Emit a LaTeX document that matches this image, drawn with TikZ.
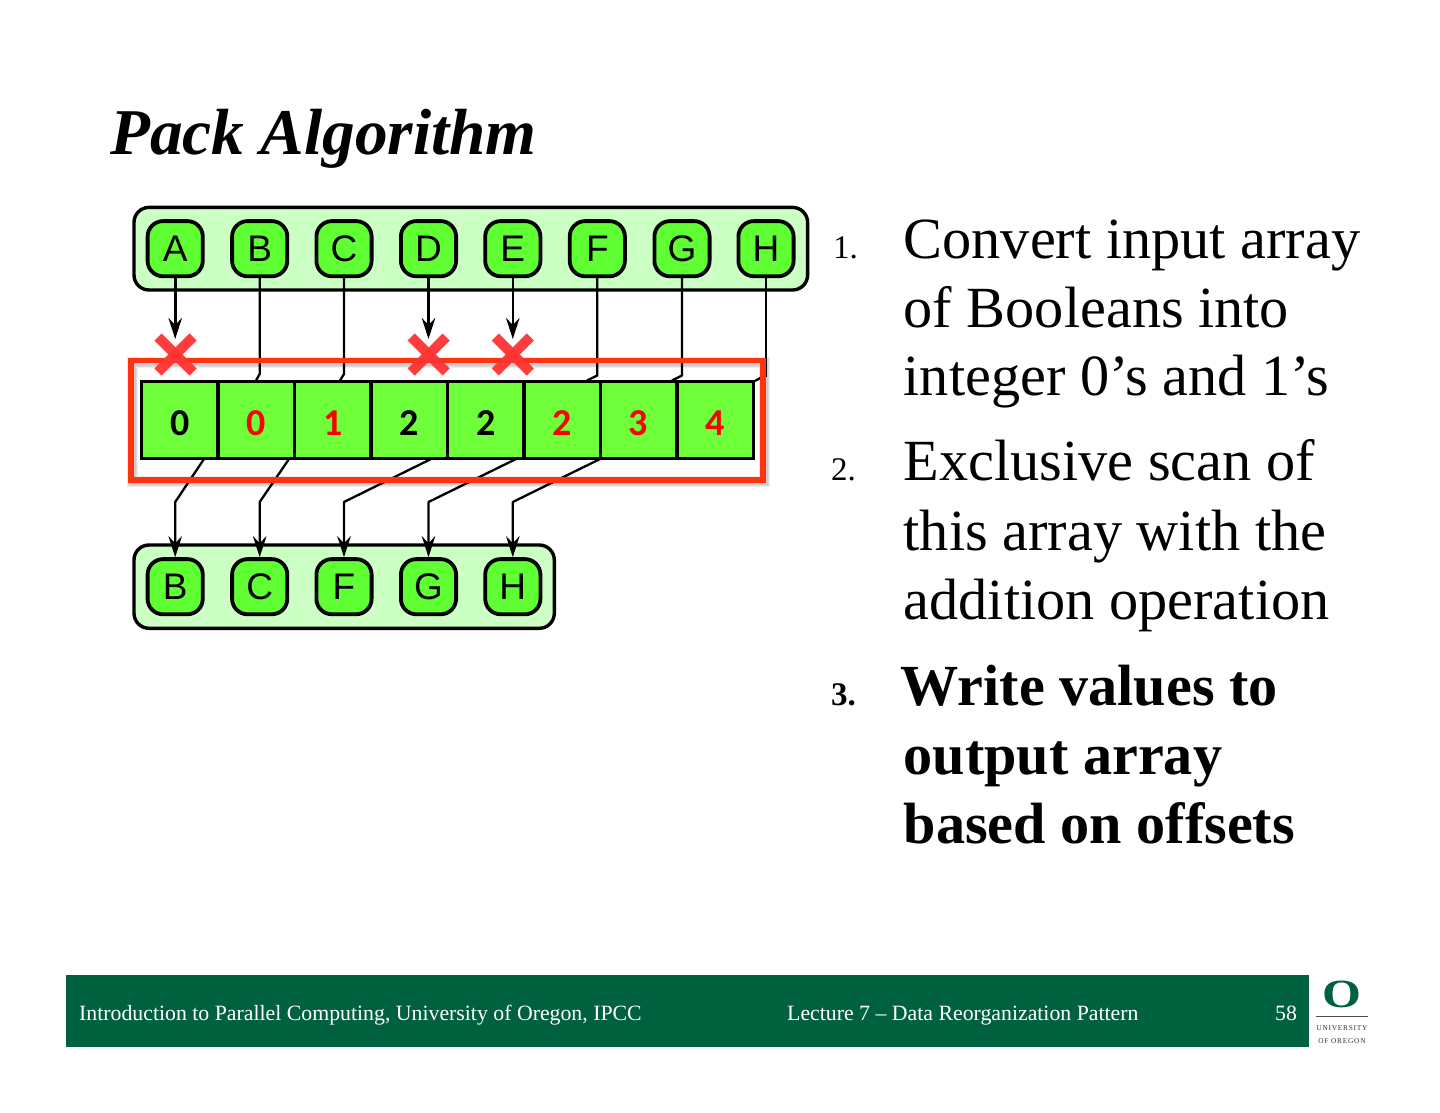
\documentclass[tikz,border=0pt]{standalone}
\usepackage{fontspec}
\setmainfont{Liberation Serif}
\newfontfamily\arialf{Liberation Sans}
\newfontfamily\calibrif{Carlito}
\newfontfamily\logof[LetterSpace=10]{Liberation Serif}
\usetikzlibrary{arrows.meta,calc}
\definecolor{contfill}{HTML}{CCFFC4}
\definecolor{nodefill}{HTML}{5FFF33}
\definecolor{cellfill}{HTML}{6FFF3A}
\definecolor{redbox}{HTML}{FF3311}
\definecolor{crossred}{HTML}{FF3333}
\definecolor{uogreen}{HTML}{00613F}
\newcommand{\fsz}[1]{\fontsize{#1}{#1}\selectfont}
\newcommand{\celltxt}[1]{\smash{\raisebox{-15pt}{#1}}}
\tikzset{
 container/.style={draw=black,fill=contfill,line width=3.4pt,rounded corners=15pt,anchor=north west,inner sep=0pt},
 item/.style={draw=black,fill=nodefill,line width=3.8pt,rounded corners=15.5pt,minimum width=55.2pt,minimum height=55.2pt,inner sep=0pt,font=\arialf\fsz{37}},
 cell/.style={draw=black,fill=cellfill,line width=3.4pt,minimum width=76.45pt,minimum height=76.6pt,inner sep=0pt,font=\calibrif\bfseries\fsz{38}},
 link/.style={draw=black,line width=2.3pt,line join=round},
 linka/.style={link,-{Stealth[length=21pt,width=13.5pt,inset=7pt]}},
 body/.style={anchor=base west,inner sep=0pt,font=\fsz{58.3}},
 bodyb/.style={anchor=base west,inner sep=0pt,font=\bfseries\fsz{58.2}},
 numlab/.style={anchor=base west,inner sep=0pt,font=\fsz{33}},
 foot/.style={anchor=base west,inner sep=0pt,text=white,font=\fsz{21.8}},
 crossbar/.style={draw=crossred,line width=10pt,opacity=.95},
 logotext/.style={anchor=base,inner sep=0pt,text=black!80,font=\logof\fsz{7.4}},
 redshade/.style={draw=black,opacity=.07},
}
\begin{document}
\begin{tikzpicture}[x=1pt,y=-1pt]
\useasboundingbox (0,0) rectangle (1440,1113);
\node[anchor=base west,inner sep=0pt,font=\bfseries\itshape\fsz{65.3}] (title) at (110,154) {Pack Algorithm};
% containers
\node[container,minimum width=673.6pt,minimum height=82.6pt] (top) at (132.3,205.7) {};
\node[container,minimum width=420.3pt,minimum height=83.3pt] (bot) at (132.3,543.3) {};
% top items
\node[item] (A) at (175.2,248.7) {A};
\node[item] (B) at (259.7,248.7) {B};
\node[item] (C) at (344,248.7) {C};
\node[item] (D) at (428.5,248.7) {D};
\node[item] (E) at (512.8,248.7) {E};
\node[item] (F) at (597.3,248.7) {F};
\node[item] (G) at (682,248.7) {G};
\node[item] (H) at (766,248.7) {H};
% bottom items
\node[item] (B2) at (175.2,586.7) {B};
\node[item] (C2) at (259.7,586.7) {C};
\node[item] (F2) at (344,586.7) {F};
\node[item] (G2) at (428.5,586.7) {G};
\node[item] (H2) at (512.8,586.7) {H};
% array
\node[cell] (c1) at (179.9,420) {\celltxt{0}};
\node[cell,text=red] (c2) at (256.35,420) {\celltxt{0}};
\node[cell,text=red] (c3) at (332.8,420) {\celltxt{1}};
\node[cell] (c4) at (409.25,420) {\celltxt{2}};
\node[cell] (c5) at (485.7,420) {\celltxt{2}};
\node[cell,text=red] (c6) at (562.15,420) {\celltxt{2}};
\node[cell,text=red] (c7) at (638.6,420) {\celltxt{3}};
\node[cell,text=red] (c8) at (715.05,420) {\celltxt{4}};
% coordinates
\coordinate (ta) at (175.2,339);
\coordinate (td) at (428.5,339);
\coordinate (te) at (512.8,339);
\coordinate (kb) at (259.7,374);
\coordinate (kb2) at (256,380.5);
\coordinate (kc) at (344,374);
\coordinate (kc2) at (340,380.5);
\coordinate (kf) at (597.3,375.5);
\coordinate (kf2) at (587,380.5);
\coordinate (kg) at (682,375.5);
\coordinate (kg2) at (672,380.5);
\coordinate (kh) at (766,377);
\coordinate (kh2a) at (761,377.5);
\coordinate (kh2) at (755,381);
\coordinate (s1) at (204,459);
\coordinate (s2) at (289,459);
\coordinate (s3) at (431,459);
\coordinate (s4) at (516,459);
\coordinate (s5) at (600,459);
\coordinate (m1) at (175.2,502);
\coordinate (m2) at (259.7,502);
\coordinate (m3) at (344,502);
\coordinate (m4) at (428.5,502);
\coordinate (m5) at (512.8,502);
% connectors
\draw[linka,line width=2.6pt] (A.south) -- (ta);
\draw[linka,line width=2.6pt] (D.south) -- (td);
\draw[linka,line width=2.6pt] (E.south) -- (te);
\draw[link] (B.south) -- (kb) -- (kb2);
\draw[link] (C.south) -- (kc) -- (kc2);
\draw[link] (F.south) -- (kf) -- (kf2);
\draw[link] (G.south) -- (kg) -- (kg2);
\draw[link] (H.south) -- (kh);
\draw[link] (kh2a) -- (kh2);
\draw[linka] (s1) -- (m1) -- (B2.north);
\draw[linka] (s2) -- (m2) -- (C2.north);
\draw[linka] (s3) -- (m3) -- (F2.north);
\draw[linka] (s4) -- (m4) -- (G2.north);
\draw[linka] (s5) -- (m5) -- (H2.north);
% red box and its soft shadow
\foreach \w in {11,9,7}{
 \draw[redshade,line width=\w pt] (132.2,362.3) rectangle (764.1,481.6);
}
\node[draw=redbox,line width=5.7pt,minimum width=632pt,minimum height=119.3pt,inner sep=0pt,anchor=north west] (red) at (128.3,357.5) {};
% crosses
\foreach \cx in {175.5,428.7,512.8}{
 \draw[crossbar] (\cx-17.5,337) -- (\cx+17.5,372);
 \draw[crossbar] (\cx+17.5,337) -- (\cx-17.5,372);
}
% body text
\node[numlab] (n1) at (833,258) {1.};
\node[body] (l1) at (903.5,258) {Convert input array};
\node[body] (l2) at (903.5,327) {of Booleans into};
\node[body] (l3) at (903.5,395) {integer 0’s and 1’s};
\node[numlab] (n2) at (831,480) {2.};
\node[body] (l4) at (903.5,480) {Exclusive scan of};
\node[body] (l5) at (903.5,550) {this array with the};
\node[body] (l6) at (903.5,619) {addition operation};
\node[numlab,font=\bfseries\fsz{33}] (n3) at (831,705) {3.};
\node[bodyb] (l7) at (900.5,705) {Write values to};
\node[bodyb] (l8) at (903.5,774) {output array};
\node[bodyb] (l9) at (903.5,843) {based on offsets};
% footer
\fill[uogreen] (66,975) rectangle (1309,1047);
\node[foot] (f1) at (79,1020) {Introduction to Parallel Computing, University of Oregon, IPCC};
\node[foot] (f2) at (787,1020) {Lecture 7 – Data Reorganization Pattern};
\node[foot] (f3) at (1275,1020) {58};
% logo
\node[anchor=base,inner sep=0pt,text=uogreen,font=\bfseries\fsz{40}] (logo) at (1341.5,1007) {\scalebox{1.25}[1]{O}};
\draw[line width=1pt,draw=black!70] (1316,1016.5) -- (1368,1016.5);
\node[logotext] (u1) at (1342,1030.7) {UNIVERSITY};
\node[logotext] (u2) at (1342,1043) {OF OREGON};
\end{tikzpicture}
\end{document}
